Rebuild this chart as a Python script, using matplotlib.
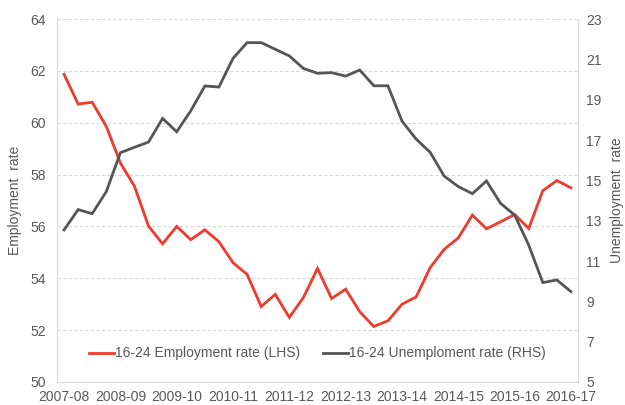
import numpy as np
import matplotlib
matplotlib.use('Agg')
import matplotlib.pyplot as plt

plt.rcParams['font.family'] = ['Liberation Sans', 'DejaVu Sans']

# quarterly points, 2007-08 to 2016-17
years = ['2007-08', '2008-09', '2009-10', '2010-11', '2011-12',
         '2012-13', '2013-14', '2014-15', '2015-16', '2016-17']

employment = [61.87, 60.72, 60.79, 59.86, 58.45, 57.55, 56.01, 55.33, 56.0, 55.49,
              55.87, 55.41, 54.6, 54.15, 52.91, 53.38, 52.49, 53.26, 54.38, 53.22,
              53.58, 52.71, 52.14, 52.36, 53.0, 53.28, 54.41, 55.12, 55.56, 56.44,
              55.91, 56.18, 56.46, 55.92, 57.38, 57.77, 57.49]

unemployment = [12.54, 13.55, 13.35, 14.44, 16.37, 16.64, 16.9, 18.07, 17.41, 18.45,
                19.68, 19.63, 21.05, 21.83, 21.83, 21.5, 21.17, 20.55, 20.31, 20.34,
                20.17, 20.47, 19.69, 19.69, 17.94, 17.05, 16.39, 15.21, 14.69, 14.34,
                14.97, 13.86, 13.28, 11.79, 9.93, 10.06, 9.48]

red = '#ef3a2c'
grey = '#555555'
txt = '#595959'

x = np.arange(len(employment))

fig = plt.figure(figsize=(6.25, 4.05), dpi=100)
ax = fig.add_axes([0.0912, 0.0568, 0.8336, 0.8962])
ax2 = ax.twinx()

l1, = ax.plot(x, employment, color=red, lw=2.0, solid_joinstyle='miter')
l2, = ax2.plot(x, unemployment, color=grey, lw=2.0, solid_joinstyle='miter')

ax.set_xlim(-0.5, len(x) - 0.5)
ax.set_ylim(50, 64)
ax.set_yticks(np.arange(50, 65, 2))
ax2.set_ylim(5, 23)
ax2.set_yticks(np.arange(5, 24, 2))

ax.set_xticks(x[::4])
ax.set_xticklabels(years)

for y in np.arange(52, 65, 2):
    ax.axhline(y, color='#d9d9d9', lw=0.8, ls=(0, (3, 2)), zorder=0)

for a in (ax, ax2):
    a.tick_params(length=0, labelsize=10, colors=txt)
    for s in a.spines.values():
        s.set_visible(False)
ax.tick_params(axis='y', pad=8)
ax.tick_params(axis='x', pad=6)
ax2.tick_params(axis='y', pad=6)

ax.spines['left'].set_visible(True)
ax.spines['left'].set_color('#d9d9d9')
ax.spines['bottom'].set_visible(True)
ax.spines['bottom'].set_color('#d9d9d9')
ax2.spines['right'].set_visible(True)
ax2.spines['right'].set_color('#d9d9d9')

ax.set_ylabel('Employment  rate', fontsize=10, color=txt, labelpad=6)
ax2.set_ylabel('Unemployment  rate', fontsize=10, color=txt, labelpad=6)

ax.legend([l1, l2], ['16-24 Employment rate (LHS)', '16-24 Unemploment rate (RHS)'],
          loc='lower center', bbox_to_anchor=(0.5, 0.025), ncol=2, frameon=False,
          fontsize=10, labelcolor=txt, handlelength=1.8, handletextpad=0.1,
          columnspacing=1.6)

fig.savefig('out.png', dpi=100)
